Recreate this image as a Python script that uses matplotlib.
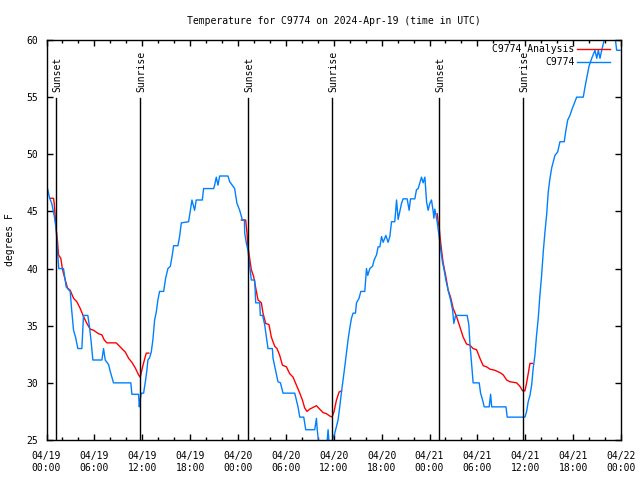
import matplotlib
matplotlib.use("Agg")
import matplotlib.pyplot as plt
from matplotlib.ticker import MultipleLocator

plt.rcParams["font.family"] = ["DejaVu Sans Mono"]
plt.rcParams["font.size"] = 7

# hours since 2024-04-19 00:00 UTC
obs_hours = [0.13, 0.38, 0.66, 1.00, 1.22, 1.38, 1.54, 2.13, 2.47, 2.97, 3.14, 3.39, 3.64, 3.93,
             4.43, 4.64, 5.18, 5.39, 5.61, 5.81, 6.94, 7.15, 7.36, 7.78, 7.99, 8.40, 10.57, 10.70,
             11.54, 11.63, 11.73, 11.88, 12.17, 12.42, 12.58, 12.71, 12.92, 13.13, 13.33, 13.55,
             13.76, 13.96, 14.17, 14.68, 14.93, 15.22, 15.52, 15.77, 15.93, 16.47, 16.68, 16.90,
             17.81, 18.03, 18.23, 18.56, 18.77, 19.53, 19.69, 20.95, 21.07, 21.28, 21.49, 21.70,
             22.74, 22.96, 23.58, 23.87, 24.21, 24.55, 24.80, 24.84, 25.05, 25.25, 25.38, 25.67,
             26.09, 26.22, 26.72, 26.80, 27.09, 27.34, 27.56, 27.76, 28.31, 28.39, 28.73, 29.01,
             29.32, 29.64, 31.11, 31.32, 31.52, 31.74, 32.24, 32.49, 33.62, 33.83, 33.93, 34.16,
             35.12, 35.29, 35.44, 35.84, 36.13, 36.34, 36.54, 36.75, 36.97, 37.17, 37.38, 37.59,
             37.79, 38.01, 38.22, 38.42, 38.72, 38.85, 39.17, 39.39, 39.89, 40.10, 40.26, 40.52,
             40.86, 41.06, 41.36, 41.56, 41.78, 41.99, 42.19, 42.53, 42.81, 43.03, 43.24, 43.65,
             43.87, 44.07, 44.28, 44.49, 44.69, 45.20, 45.45, 45.62, 46.16, 46.37, 46.58, 46.79,
             47.00, 47.20, 47.42, 47.63, 47.83, 48.04, 48.25, 48.46, 48.55, 48.67, 48.96, 49.21,
             49.42, 49.64, 49.80, 50.05, 50.34, 50.64, 50.89, 51.05, 51.27, 52.72, 52.93, 53.06,
             53.27, 53.47, 54.23, 54.40, 54.65, 54.86, 55.48, 55.66, 55.79, 57.58, 57.74, 59.96,
             60.17, 60.37, 60.59, 60.80, 61.00, 61.21, 61.42, 61.63, 61.84, 62.05, 62.26, 62.47,
             62.68, 62.88, 63.10, 63.31, 63.51, 63.72, 64.06, 64.35, 64.89, 65.07, 65.32, 65.60,
             65.89, 66.23, 66.44, 67.27, 67.49, 67.70, 67.99, 68.33, 68.74, 68.96, 69.16, 69.37,
             69.58, 70.00, 71.25, 71.46, 71.88]
obs_temp = [47.0, 46.2, 45.7, 44.5, 43.4, 41.5, 40.0, 40.0, 38.4, 38.0, 36.5, 34.6, 34.0, 33.0,
            33.0, 35.9, 35.9, 34.9, 33.5, 32.0, 32.0, 33.0, 32.0, 31.6, 31.0, 30.0, 30.0, 29.0,
            29.0, 27.9, 28.5, 29.1, 29.1, 30.25, 31.1, 32.0, 32.2, 32.7, 33.75, 35.5,
            36.2, 37.25, 38.0, 38.0, 39.15, 40.0, 40.2, 41.2, 42.0, 42.0, 42.8, 44.0,
            44.1, 45.1, 46.0, 45.1, 46.0, 46.0, 47.0, 47.0, 47.3, 48.0, 47.3, 48.1,
            48.1, 47.6, 47.0, 45.7, 45.1, 44.25, 44.25, 43.1, 42.2, 41.6, 40.75, 39.0,
            39.0, 37.0, 37.0, 35.9, 35.9, 35.1, 34.0, 33.0, 33.0, 32.15, 31.0, 30.1,
            30.0, 29.1, 29.1, 28.5, 27.9, 27.0, 27.0, 25.9, 25.9, 26.9, 25.9, 24.5,
            24.5, 25.9, 24.5, 25.0, 25.6, 26.2, 26.75, 27.9, 29.2, 30.25, 31.4, 32.6,
            33.75, 34.8, 35.65, 36.1, 36.1, 37.0, 37.4, 38.0, 38.0, 40.0, 39.4, 40.0,
            40.2, 40.75, 41.2, 41.9, 41.9, 42.8, 42.3, 42.9, 42.3, 42.8, 44.1, 44.1,
            46.0, 44.3, 45.0, 45.7, 46.1, 46.1, 45.1, 46.1, 46.1, 46.9, 47.0, 47.5,
            48.0, 47.5, 48.0, 45.85, 45.1, 45.7, 46.0, 45.0, 44.4, 45.2, 44.1, 42.8,
            41.6, 40.5, 40.0, 39.0, 38.1, 37.25, 36.4, 35.2, 35.9, 35.9, 35.1, 33.5,
            31.7, 30.0, 30.0, 29.1, 28.5, 27.9, 27.9, 29.0, 27.9, 27.9, 27.0, 27.0,
            27.5, 28.35, 28.9, 29.8, 31.3, 32.4, 34.2, 35.65, 37.7, 39.4, 41.5, 43.2,
            44.7, 46.7, 47.9, 48.8, 49.35, 49.9, 50.2, 51.1, 51.1, 52.0, 53.0, 53.4,
            54.0, 54.6, 55.0, 55.0, 55.9, 56.65, 57.7, 58.4, 59.1, 58.4, 59.1, 58.4,
            59.1, 60.3, 60.3, 59.1, 59.1]

# analysis, one piece per night
ana1_hours = [0.46, 0.88, 0.97, 1.09, 1.22, 1.38, 1.51, 1.79, 2.01, 2.35, 2.63, 2.97, 3.39, 3.80,
              4.23, 4.64, 5.06, 5.48, 5.90, 6.52, 6.94, 7.24, 7.56, 8.19, 8.74, 9.16, 9.57, 9.87,
              10.29, 10.70, 11.13, 11.54, 11.75, 12.04, 12.38, 12.50, 12.83]
ana1_temp = [46.15, 46.15, 45.7, 44.5, 43.4, 42.35, 41.2, 40.9, 39.9, 39.0, 38.3, 38.1, 37.4, 37.1,
             36.5, 35.8, 35.2, 34.7, 34.6, 34.3, 34.2, 33.75, 33.5, 33.5, 33.5, 33.2, 32.9, 32.7,
             32.15, 31.8, 31.3, 30.7, 30.5, 31.4, 32.3, 32.6, 32.6]
ana2_hours = [24.42, 24.96, 25.13, 25.25, 25.46, 25.67, 25.96, 26.22, 26.51, 26.93, 27.13, 27.47,
              27.88, 28.18, 28.60, 28.89, 29.23, 29.57, 30.07, 30.48, 30.90, 31.32, 31.74, 32.07,
              32.36, 32.65, 32.99, 33.40, 33.83, 34.24, 34.66, 35.09, 35.50, 35.79, 36.04, 36.34,
              36.67, 36.97]
ana2_temp = [44.25, 44.25, 43.1, 41.9, 40.9, 39.9, 39.3, 38.3, 37.25, 37.0, 36.1, 35.2,
             35.1, 34.0, 33.2, 33.0, 32.4, 31.55, 31.4, 30.8, 30.5, 29.8, 29.1, 28.5,
             27.8, 27.5, 27.7, 27.85, 28.0, 27.7, 27.4, 27.3, 27.1, 27.0, 27.5, 28.5,
             29.2, 29.3]
ana3_hours = [48.96, 49.08, 49.21, 49.30, 49.51, 49.71, 50.05, 50.34, 50.64, 50.97, 51.39, 51.81,
              52.22, 52.64, 53.06, 53.47, 53.90, 54.32, 54.73, 55.16, 55.57, 56.20, 56.82, 57.24,
              57.67, 58.08, 58.92, 59.33, 59.67, 59.96, 60.17, 60.37, 60.59, 60.88]
ana3_temp = [44.8, 44.1, 43.65, 42.9, 41.6, 40.5, 39.3, 38.1, 37.5, 36.5, 35.8, 34.9,
             34.0, 33.4, 33.3, 33.0, 32.9, 32.15, 31.5, 31.4, 31.2, 31.1, 30.9, 30.7,
             30.25, 30.1, 30.0, 29.7, 29.3, 29.3, 30.0, 30.8, 31.7, 31.7]

sun_hours = [1.13, 11.67, 25.21, 35.75, 49.17, 59.71]
sun_labels = ["Sunset", "Sunrise", "Sunset", "Sunrise", "Sunset", "Sunrise"]

xtick_labels = ["04/19\n00:00", "04/19\n06:00", "04/19\n12:00", "04/19\n18:00",
                "04/20\n00:00", "04/20\n06:00", "04/20\n12:00", "04/20\n18:00",
                "04/21\n00:00", "04/21\n06:00", "04/21\n12:00", "04/21\n18:00",
                "04/22\n00:00"]

fig = plt.figure(figsize=(6.4, 4.8), dpi=100)
ax = fig.add_axes([46.5 / 640, 40 / 480, 574.5 / 640, 400 / 480])

red = "#ff0000"
blue = "#0080ff"
ax.plot(ana1_hours, ana1_temp, color=red, lw=1.0, label="C9774 Analysis")
ax.plot(ana2_hours, ana2_temp, color=red, lw=1.0)
ax.plot(ana3_hours, ana3_temp, color=red, lw=1.0)
ax.plot(obs_hours, obs_temp, color=blue, lw=1.0, label="C9774")

for h, lab in zip(sun_hours, sun_labels):
    ax.plot([h, h], [25, 54.9], color="black", lw=1.0)
    ax.text(h + 0.2, 55.45, lab, rotation=90, ha="center", va="bottom")

ax.set_xlim(0, 72)
ax.set_ylim(25, 60)
ax.set_xticks(range(0, 73, 6))
ax.set_xticklabels(xtick_labels)
ax.xaxis.set_minor_locator(MultipleLocator(2))
ax.set_yticks(range(25, 61, 5))
ax.tick_params(which="both", direction="in", top=True, right=True, width=1.0)
ax.tick_params(which="major", length=4.5)
ax.tick_params(axis="x", which="major", pad=8)
ax.tick_params(axis="y", which="major", pad=6)
ax.tick_params(which="minor", length=2.5)
for s in ax.spines.values():
    s.set_linewidth(1.0)

ax.set_title("Temperature for C9774 on 2024-Apr-19 (time in UTC)", fontsize=7, pad=11.5)
ax.set_ylabel("degrees F", labelpad=8)

ax.legend(loc="upper right", bbox_to_anchor=(0.981, 0.99), frameon=False, markerfirst=False,
          handlelength=3.4, borderpad=0, borderaxespad=0, labelspacing=0.3,
          handletextpad=0.25, fontsize=7)

fig.savefig("out.png", dpi=100)
